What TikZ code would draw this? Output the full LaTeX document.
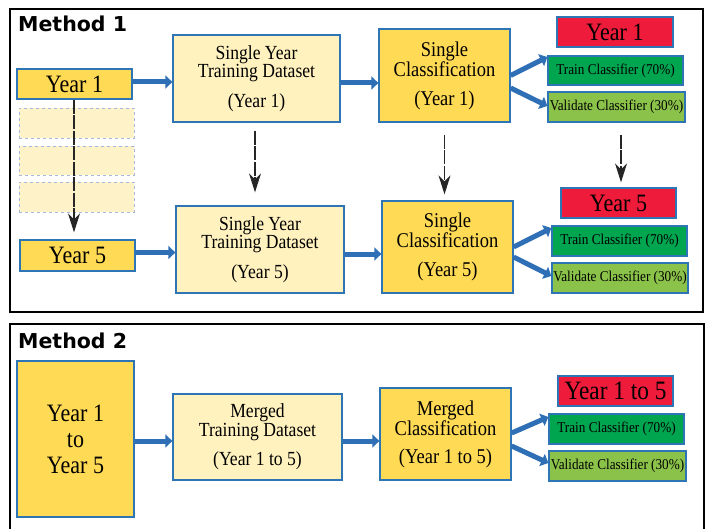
\documentclass[tikz,border=0pt]{standalone}
\usepackage{fontspec}
\setmainfont{Liberation Serif}[FakeStretch=0.88]
\newfontfamily\methfont{DejaVu Sans}
\usetikzlibrary{arrows.meta,calc}
\definecolor{gold}{HTML}{FFDA55}
\definecolor{cream}{HTML}{FFF2BF}
\definecolor{paleY}{HTML}{FDF2C8}
\definecolor{bblue}{HTML}{2E75B6}
\definecolor{ablue}{HTML}{2F6FB5}
\definecolor{redbox}{HTML}{EE1C3A}
\definecolor{dgreen}{HTML}{00A550}
\definecolor{lgreen}{HTML}{8BC34A}
\definecolor{dashb}{HTML}{A8B8DC}
\begin{document}
\begin{tikzpicture}[x=1pt,y=-1pt,
  box/.style={draw=bblue,line width=1.3pt,inner sep=0pt,align=center},
  yearbox/.style={box,fill=gold,font=\fontsize{25}{25}\selectfont},
  ghost/.style={draw=dashb,dashed,line width=0.8pt,fill=paleY,minimum width=115,inner sep=0pt},
  trainset/.style={box,fill=cream,font=\fontsize{20}{18.5}\selectfont,minimum width=168,minimum height=87},
  classbox/.style={box,fill=gold,font=\fontsize{21}{20}\selectfont,minimum width=131,minimum height=92},
  redlab/.style={box,fill=redbox,font=\fontsize{25}{25}\selectfont,minimum width=116,minimum height=30},
  trainbox/.style={box,fill=dgreen,font=\fontsize{15}{15}\selectfont,minimum width=135,minimum height=30},
  valbox/.style={box,fill=lgreen,font=\fontsize{15}{15}\selectfont,minimum width=137,minimum height=30},
  flow/.style={draw=ablue,line width=5pt,-{Triangle[length=7pt,width=13pt]},ablue},
  down/.style={draw=black!85,line width=1.2pt,dash pattern=on 14pt off 1.5pt,-{Stealth[length=19pt,width=12pt,inset=6pt]}},
  frame/.style={draw=black,line width=2pt},
  methlab/.style={anchor=base west,inner sep=0pt,font=\methfont\bfseries\fontsize{20.5}{20.5}\selectfont}
]
\useasboundingbox (0,0) rectangle (706,529);
\fill[white] (0,0) rectangle (706,529);
% frames
\draw[frame] (10,9) rectangle (703,312);
\draw[frame] (10,324) rectangle (704,545);
\node[methlab] (m1) at (18,32) {Method 1};
\node[methlab] (m2) at (18,348) {Method 2};

% ---- Method 1
\node[yearbox,minimum width=115,minimum height=30] (y1) at (74.5,84) {Year 1};
\node[ghost,minimum height=30] (g1) at (76.5,123) {};
\node[ghost,minimum height=29] (g2) at (76.5,160.5) {};
\node[ghost,minimum height=30] (g3) at (76.5,197) {};
\node[yearbox,minimum width=115,minimum height=31] (y5) at (77.5,255.5) {Year 5};

\node[trainset,minimum width=167] (tr1) at (256.5,78.5) {Single Year\\Training Dataset\\[11pt](Year 1)};
\node[trainset] (tr5) at (260,249.5) {Single Year\\Training Dataset\\[11pt](Year 5)};

\node[classbox,minimum height=93] (c1) at (444.5,75.5) {Single\\Classification\\[9pt](Year 1)};
\node[classbox] (c5) at (447.5,247) {Single\\Classification\\[9pt](Year 5)};

\node[redlab] (r1) at (615,32) {Year 1};
\node[trainbox,minimum height=29] (t1) at (615.5,70.5) {Train Classifier (70\%)};
\node[valbox] (v1) at (616.5,107) {Validate Classifier (30\%)};
\node[redlab,minimum width=115] (r5) at (618.5,203) {Year 5};
\node[trainbox] (t5) at (619.5,241) {Train Classifier (70\%)};
\node[valbox,minimum width=136] (v5) at (620,278) {Validate Classifier (30\%)};

% blue flows row 1
\draw[flow] ([yshift=2]y1.east) -- ([yshift=2]y1.east -| tr1.west);
\draw[flow] ([yshift=-4.5]tr1.east) -- ([yshift=-4.5]tr1.east -| c1.west);
\draw[flow] (c1.east) -- ([yshift=13.5]t1.west);
\draw[flow] ([yshift=-12.5]c1.east) -- ([yshift=1]v1.west);
% blue flows row 2
\draw[flow] ([yshift=3]y5.east) -- ([yshift=3]y5.east -| tr5.west);
\draw[flow] ([yshift=-4.5]tr5.east) -- ([yshift=-4.5]tr5.east -| c5.west);
\draw[flow] (c5.east) -- ([yshift=13]t5.west);
\draw[flow] ([yshift=-10]c5.east) -- ([yshift=2]v5.west);

% dashed downward arrows
\draw[down] ([xshift=-0.5]y1.south) -- ([xshift=-0.5,yshift=7]y1.south |- y5.north);
\draw[down,shorten <=8pt] ([xshift=-1.5]tr1.south) -- ([xshift=-1.5,yshift=13]tr1.south |- tr5.north);
\draw[down,shorten <=12pt] (c1.south) -- ([yshift=6]c1.south |- c5.north);
\draw[down,shorten <=12pt] ([xshift=4.5]v1.south) -- ([xshift=4.5,yshift=5]v1.south |- r5.north);

% ---- Method 2
\node[yearbox,minimum width=117,minimum height=156,font=\fontsize{25}{26}\selectfont] (yall) at (75.5,439) {Year 1\\to\\Year 5};
\node[trainset,minimum width=169,minimum height=86] (mtr) at (257.5,437) {Merged\\Training Dataset\\[11pt](Year 1 to 5)};
\node[classbox] (mc) at (445.5,434) {Merged\\Classification\\[8pt](Year 1 to 5)};
\node[redlab,minimum width=115,font=\fontsize{26.5}{26.5}\selectfont] (rm) at (615.5,391) {Year 1 to 5};
\node[trainbox] (tm) at (616.5,429) {Train Classifier (70\%)};
\node[valbox] (vm) at (617.5,466) {Validate Classifier (30\%)};

\draw[flow] ([yshift=-2]yall.east) -- ([yshift=-2]yall.east -| mtr.west);
\draw[flow] ([yshift=-4]mtr.east) -- ([yshift=-4]mtr.east -| mc.west);
\draw[flow] ([yshift=1]mc.east) -- ([yshift=12]tm.west);
\draw[flow] ([yshift=-12]mc.east) -- ([yshift=3]vm.west);
\end{tikzpicture}
\end{document}
